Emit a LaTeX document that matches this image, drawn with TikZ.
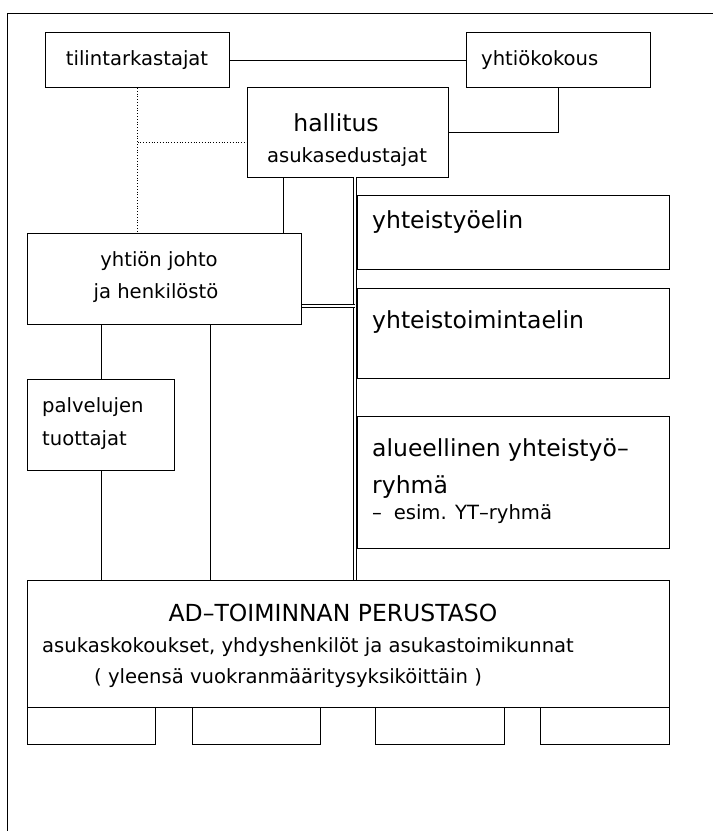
\documentclass[tikz,border=0pt]{standalone}
\usepackage{fontspec}
\setmainfont{DejaVu Sans}
\begin{document}
\begin{tikzpicture}[x=1pt,y=-1pt,
  box/.style={draw,line width=1pt,inner sep=0pt,anchor=north west},
  txt/.style={inner sep=0pt,font=\fontsize{19.6}{21}\selectfont},
  big/.style={inner sep=0pt,font=\fontsize{23.5}{25}\selectfont},
  conn/.style={line width=1pt},
  dconn/.style={line width=0.8pt,double,double distance=2.2pt},
  dots/.style={line width=0.8pt,dotted}]
\useasboundingbox (0,0) rectangle (713,831);
% frame
\draw[conn] (7,831) -- (7,13) -- (713,13);
% boxes
\node[box,minimum width=184pt,minimum height=55pt] (til) at (45,32) {};
\node[box,minimum width=184pt,minimum height=55pt] (yk) at (466,32) {};
\node[box,minimum width=201pt,minimum height=90pt] (hal) at (247,87) {};
\node[box,minimum width=274pt,minimum height=91pt] (joh) at (27,233) {};
\node[box,minimum width=147pt,minimum height=91pt] (palv) at (27,379) {};
\node[box,minimum width=312pt,minimum height=74pt] (yte) at (357,195) {};
\node[box,minimum width=312pt,minimum height=90pt] (yto) at (357,288) {};
\node[box,minimum width=312pt,minimum height=132pt] (alu) at (357,416) {};
\node[box,minimum width=642pt,minimum height=127pt] (ad) at (27,580) {};
\node[box,minimum width=128pt,minimum height=37pt] (s1) at (27,707) {};
\node[box,minimum width=128pt,minimum height=37pt] (s2) at (192,707) {};
\node[box,minimum width=129pt,minimum height=37pt] (s3) at (375,707) {};
\node[box,minimum width=129pt,minimum height=37pt] (s4) at (540,707) {};
% helper coordinates
\coordinate (dvtop) at (355,177);
\coordinate (dvbot) at (355,580);
\coordinate (dhr) at (355,306);
\coordinate (halj) at (283,177);
\coordinate (jad) at (210,324);
% texts
\node[txt] (t1) at (137,60) {tilintarkastajat};
\node[txt,anchor=west] (t2) at (481,60) {yhtiökokous};
\node[big] (t3) at (336,123) {hallitus};
\node[txt] (t4) at (347,157) {asukasedustajat};
\node[txt] (t5) at (159,261) {yhtiön johto};
\node[txt] (t6) at (156,293) {ja henkilöstö};
\node[big,anchor=west] (t7) at (372,222) {yhteistyöelin};
\node[big,anchor=west] (t8) at (372,322) {yhteistoimintaelin};
\node[big,anchor=west] (t9) at (372,450) {alueellinen yhteistyö–};
\node[big,anchor=west] (t10) at (372,487) {ryhmä};
\node[txt,anchor=west] (t11) at (372,514) {–\hspace{0.6em}esim. YT–ryhmä};
\node[txt,anchor=west] (t12) at (42,407) {palvelujen};
\node[txt,anchor=west] (t13) at (42,440) {tuottajat};
\node[big] (t14) at (333,613) {AD–TOIMINNAN PERUSTASO};
\node[txt,anchor=west] (t15) at (42,647) {asukaskokoukset, yhdyshenkilöt ja asukastoimikunnat};
\node[txt,anchor=west] (t16) at (94,678) {( yleensä vuokranmääritysyksiköittäin )};
% connectors
\draw[conn] (til) -- (yk);
\draw[conn] (yk.south) |- (hal.east);
\draw[dots] (til.south) -- (til.south |- joh.north);
\draw[dots] (til.south |- 0,142) -- (hal.west |- 0,142);
\draw[conn] (halj) -- (halj |- joh.north);
\draw[dconn] (dvtop) -- (dvbot);
\draw[dconn] (joh.east |- dhr) -- (dhr);
\draw[conn] (palv.north) -- (palv.north |- joh.south);
\draw[conn] (palv.south) -- (palv.south |- ad.north);
\draw[conn] (jad) -- (jad |- ad.north);
\end{tikzpicture}
\end{document}
